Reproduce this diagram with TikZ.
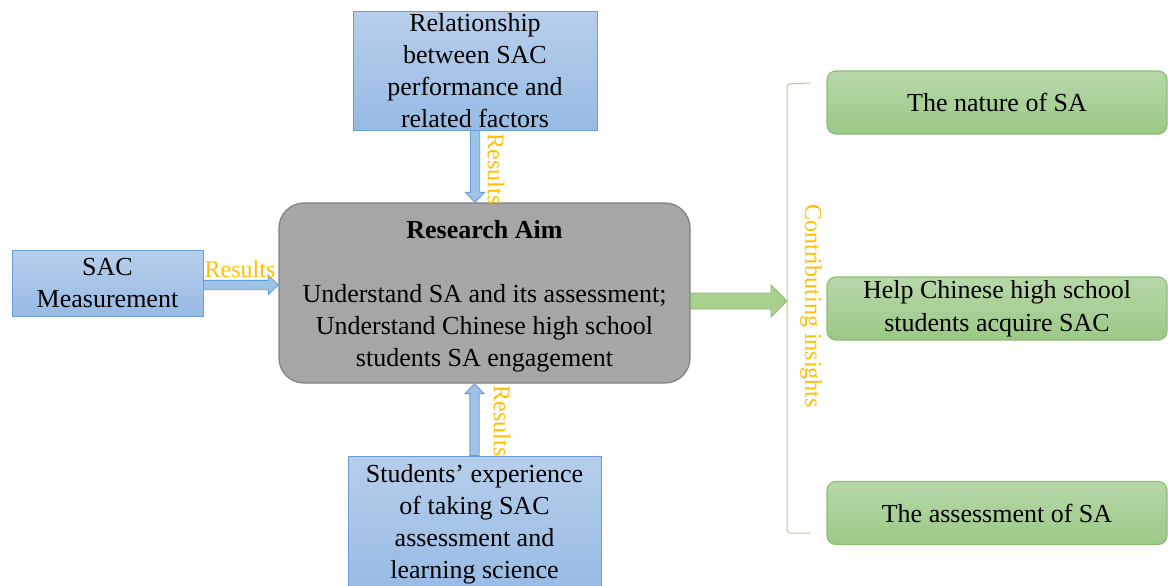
\documentclass[tikz,border=0pt]{standalone}
\usepackage{fontspec}
\setmainfont{Liberation Serif}
\usetikzlibrary{calc}

\definecolor{blueTop}{HTML}{B6CEEB}
\definecolor{blueBot}{HTML}{97BBE4}
\definecolor{blueLine}{HTML}{6A9ED8}
\definecolor{blueArr}{HTML}{9DC3E6}
\definecolor{greenTop}{HTML}{B7D8A9}
\definecolor{greenBot}{HTML}{9BC986}
\definecolor{greenLine}{HTML}{8BBE72}
\definecolor{greenArr}{HTML}{A9D18E}
\definecolor{aimGray}{HTML}{A6A6A6}
\definecolor{aimLine}{HTML}{808080}
\definecolor{resOrange}{HTML}{FFC000}

\tikzset{
  bluebox/.style={draw=blueLine, line width=1pt, top color=blueTop, bottom color=blueBot,
    align=center, inner sep=0pt},
  greenbox/.style={draw=greenLine, line width=1.2pt, rounded corners=9pt, top color=greenTop,
    bottom color=greenBot, minimum width=340pt, minimum height=63pt, align=center, inner sep=0pt},
  resultlabel/.style={text=resOrange, font=\fontsize{24}{28}\selectfont, inner sep=0pt},
  % shaft half width / head half width / head length
  blockarrow/.style n args={3}{to path={
    let \p1=(\tikztostart), \p2=(\tikztotarget), \n1={atan2(\y2-\y1,\x2-\x1)} in
    ($(\p1)+(\n1+90:#1)$) -- ($(\p2)+(\n1:-#3)+(\n1+90:#1)$) -- ($(\p2)+(\n1:-#3)+(\n1+90:#2)$)
    -- (\p2) -- ($(\p2)+(\n1:-#3)+(\n1-90:#2)$) -- ($(\p2)+(\n1:-#3)+(\n1-90:#1)$)
    -- ($(\p1)+(\n1-90:#1)$) -- cycle}},
  bluearrow/.style={draw=blueLine, fill=blueArr, line width=0.9pt, blockarrow={4.7pt}{9.5pt}{10pt}},
  greenarrow/.style={draw=greenArr!85!black, fill=greenArr, line width=0.9pt, blockarrow={8pt}{16pt}{16pt}}
}

\begin{document}
\begin{tikzpicture}[x=1pt, y=-1pt, font=\fontsize{26}{32}\selectfont]
\useasboundingbox (0,0) rectangle (1168,586);
\clip (0,0) rectangle (1168,586);

\node[bluebox, minimum width=244pt, minimum height=118pt] (rel) at (475,71)
  {Relationship\\between SAC\\performance and\\related factors};
\node[bluebox, minimum width=191pt, minimum height=66pt] (meas) at (107.5,283)
  {SAC\\Measurement};
\node[bluebox, minimum width=253pt, minimum height=136pt] (stud) at (474.5,524)
  {Students’ experience\\of taking SAC\\assessment and\\learning science};

% grey box, its text sits a little low
\node[draw=aimLine, line width=1.2pt, fill=aimGray, rounded corners=25pt,
  minimum width=411pt, minimum height=180pt] (aim) at (484.5,293) {};
\node[align=center, inner sep=0pt] (aimtext) at ([yshift=-3.5pt]aim.center)
  {\textbf{Research Aim}\\[32pt]Understand SA and its assessment;\\Understand Chinese high school\\students SA engagement};

\node[greenbox] (nat) at (997,102.5) {The nature of SA};
\node[greenbox] (help) at (997,308.5) {Help Chinese high school\\[1pt]students acquire SAC};
\node[greenbox] (asm) at (997,513) {The assessment of SA};

\coordinate (brtop) at (787,84);
\coordinate (brbot) at (787,533);
\coordinate (m1) at ([yshift=-2pt]meas.east);
\coordinate (g1) at ([yshift=-8pt]aim.east);

\draw[bluearrow] (rel.south) to (rel.south |- aim.north);
\draw[bluearrow] (m1) to (m1 -| aim.west);
\draw[bluearrow] (stud.north) to (stud.north |- aim.south);
\draw[greenarrow] (g1) to (g1 -| brtop);

\draw[greenArr, line width=1pt, rounded corners=3pt]
  (810,83) -- (brtop) -- (brbot) -- (810,533);

\node[resultlabel, rotate=-90] (res1) at (496,169) {Results};
\node[resultlabel] (res2) at (240,269) {Results};
\node[resultlabel, rotate=-90] (res3) at (502,421) {Results};
\node[resultlabel, rotate=-90] (contrib) at (811,306) {Contributing insights};
\end{tikzpicture}
\end{document}
